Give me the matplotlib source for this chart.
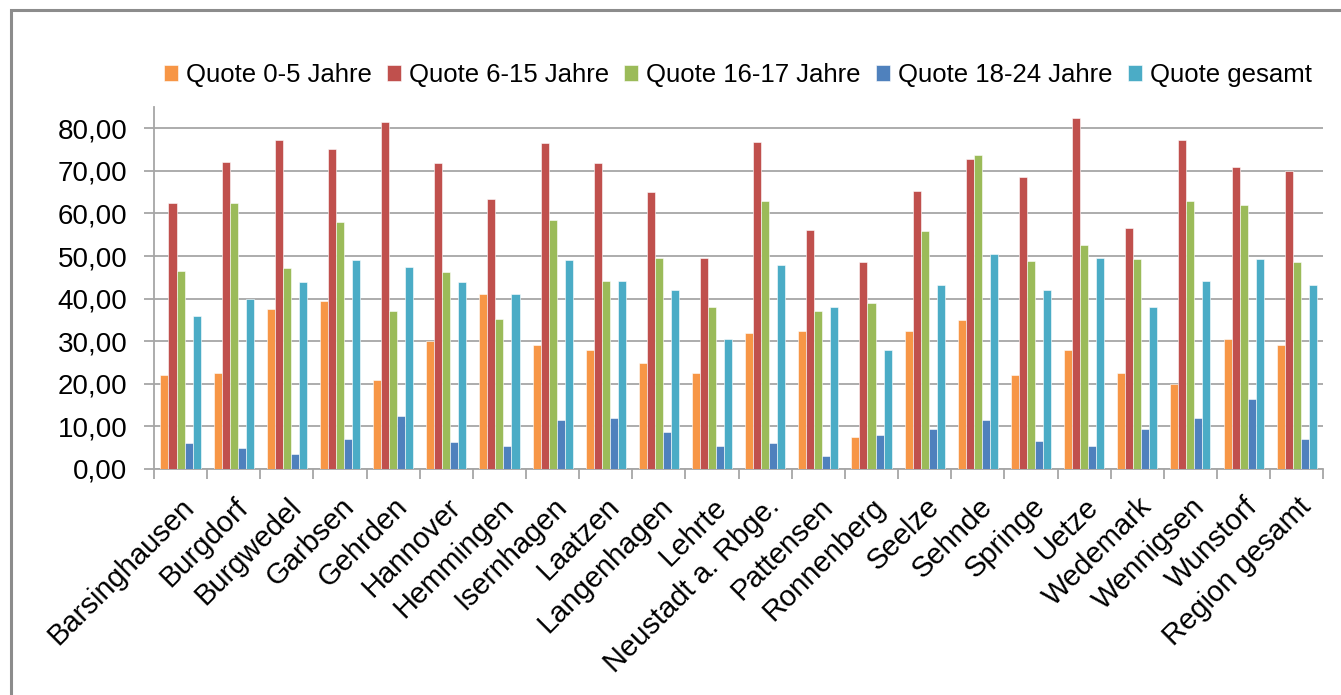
import numpy as np
import matplotlib
matplotlib.use("Agg")
import matplotlib.pyplot as plt
from matplotlib.ticker import FuncFormatter
from matplotlib.patches import Rectangle

plt.rcParams["font.family"] = ["Liberation Sans", "DejaVu Sans"]

# data --------------------------------------------------
regions = ["Barsinghausen", "Burgdorf", "Burgwedel", "Garbsen", "Gehrden",
           "Hannover", "Hemmingen", "Isernhagen", "Laatzen", "Langenhagen",
           "Lehrte", "Neustadt a. Rbge.", "Pattensen", "Ronnenberg", "Seelze",
           "Sehnde", "Springe", "Uetze", "Wedemark", "Wennigsen", "Wunstorf",
           "Region gesamt"]

quote_0_5 = [22.0, 22.5, 37.5, 39.5, 21.0, 30.0, 41.0, 29.0, 28.0, 25.0, 22.5,
             32.0, 32.5, 7.5, 32.5, 35.0, 22.0, 28.0, 22.5, 20.0, 30.5, 29.0]
quote_6_15 = [62.5, 72.2, 77.2, 75.2, 81.5, 71.8, 63.5, 76.5, 71.8, 65.0, 49.5,
              76.8, 56.2, 48.5, 65.2, 72.8, 68.5, 82.5, 56.5, 77.2, 70.8, 70.0]
quote_16_17 = [46.5, 62.5, 47.2, 58.0, 37.0, 46.2, 35.3, 58.5, 44.2, 49.5, 38.0,
               63.0, 37.2, 39.0, 56.0, 73.8, 48.8, 52.5, 49.2, 63.0, 62.0, 48.5]
quote_18_24 = [6.0, 5.0, 3.5, 7.0, 12.5, 6.3, 5.5, 11.5, 12.0, 8.8, 5.5,
               6.2, 3.0, 8.0, 9.5, 11.5, 6.5, 5.3, 9.5, 12.0, 16.5, 7.0]
quote_gesamt = [36.0, 40.0, 44.0, 49.0, 47.5, 44.0, 41.0, 49.0, 44.2, 42.0, 30.5,
                48.0, 38.0, 28.0, 43.2, 50.5, 42.0, 49.5, 38.0, 44.2, 49.2, 43.2]

series_names = ["Quote 0-5 Jahre", "Quote 6-15 Jahre", "Quote 16-17 Jahre",
                "Quote 18-24 Jahre", "Quote gesamt"]
colors = ["#F79646", "#C0504D", "#9BBB59", "#4F81BD", "#4BACC6"]


# comma decimal formatter
def de_fmt(v, pos):
    return f"{v:.2f}".replace(".", ",")


# plot --------------------------------------------------
fig = plt.figure(figsize=(13.41, 6.95), dpi=100)
ax = fig.add_axes([0.1148, 0.3252, 0.872, 0.5208])

x = np.arange(len(regions))
bar_w = 0.151
all_series = [quote_0_5, quote_6_15, quote_16_17, quote_18_24, quote_gesamt]
for i, (vals, name, c) in enumerate(zip(all_series, series_names, colors)):
    ax.bar(x + (i - 2) * bar_w, vals, width=bar_w, color=c, label=name,
           edgecolor="white", linewidth=0.4, zorder=3)

ax.set_xlim(-0.5, len(regions) - 0.5)
ax.set_ylim(0, 85)
ax.set_yticks(np.arange(0, 81, 10))
ax.yaxis.set_major_formatter(FuncFormatter(de_fmt))
ax.grid(axis="y", color="#A6A6A6", linewidth=1.3, zorder=0)

# category boundaries as ticks, names at centres
ax.set_xticks(np.arange(-0.5, len(regions), 1.0))
ax.set_xticklabels([])
ax.set_xticks(x, minor=True)
ax.set_xticklabels(regions, minor=True, rotation=45, ha="right",
                   rotation_mode="anchor", fontsize=21)
ax.tick_params(axis="x", which="major", length=7, color="#A6A6A6", width=1.3)
ax.tick_params(axis="x", which="minor", length=0, pad=17)
ax.tick_params(axis="y", length=7, color="#A6A6A6", width=1.3, labelsize=20, pad=12)

for s in ["top", "right"]:
    ax.spines[s].set_visible(False)
for s in ["left", "bottom"]:
    ax.spines[s].set_color("#A6A6A6")
    ax.spines[s].set_linewidth(1.3)

leg = fig.legend(loc="center", bbox_to_anchor=(0.55, 0.892), ncol=5, frameon=False,
                 fontsize=18.5, handlelength=0.55, handleheight=0.55, handletextpad=0.3,
                 columnspacing=0.6)

# outer frame of the chart object
fig.patches.append(Rectangle((0.008, -0.2), 1.2, 1.186, transform=fig.transFigure,
                             fill=False, edgecolor="#8C8C8C", linewidth=2.2))

fig.savefig("out.png", dpi=100)
